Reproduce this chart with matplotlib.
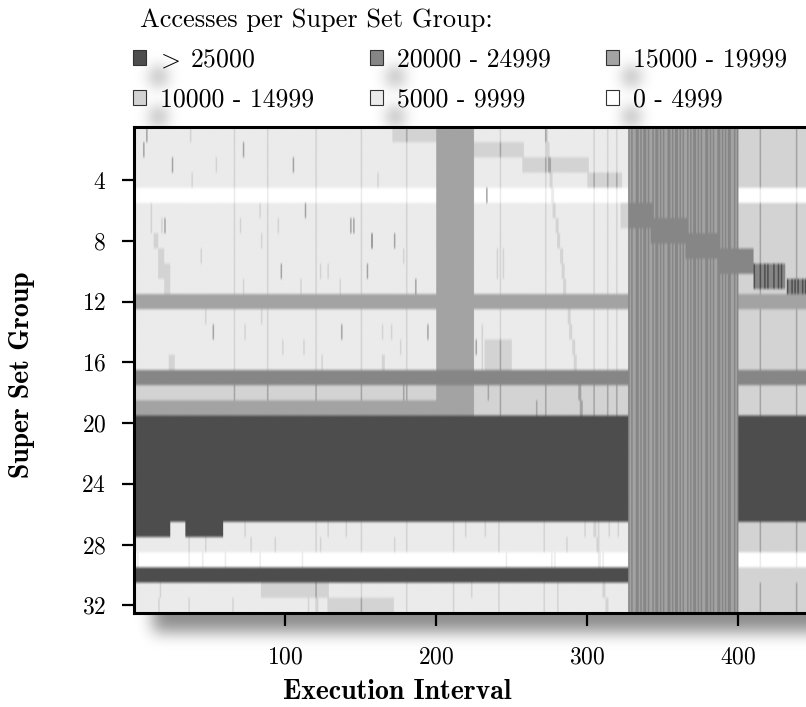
import numpy as np
import matplotlib.pyplot as plt
from matplotlib.colors import ListedColormap
from matplotlib.patches import Patch, Rectangle
from matplotlib.transforms import IdentityTransform

plt.rcParams['font.family'] = 'cmr10'
plt.rcParams['mathtext.fontset'] = 'cm'
plt.rcParams['axes.formatter.use_mathtext'] = True

# access classes, lightest to darkest
level_colors = ['#ffffff', '#ebebeb', '#d3d3d3', '#a3a3a3', '#868686', '#4d4d4d']
level_labels = ['0 - 4999', '5000 - 9999', '10000 - 14999',
                '15000 - 19999', '20000 - 24999', r'$\!>\!$ 25000']

n_int = 450
n_grp = 32
sub = 3  # raster rows per super set group

# class of each super set group (1..32) in the three phases
base_early = [1, 1, 1, 1, 0, 1, 1, 1, 1, 1, 1, 3, 1, 1, 1, 1,
              4, 2, 3, 5, 5, 5, 5, 5, 5, 5, 1, 1, 0, 5, 1, 1]
base_mid = [1, 1, 1, 1, 0, 1, 1, 1, 1, 1, 1, 3, 1, 1, 1, 1,
            4, 2, 2, 5, 5, 5, 5, 5, 5, 5, 1, 1, 0, 5, 1, 1]
base_late = [2, 2, 2, 2, 0, 2, 2, 2, 2, 2, 2, 3, 2, 2, 2, 2,
             4, 2, 2, 5, 5, 5, 5, 5, 5, 5, 2, 2, 0, 2, 2, 2]

# intervals 328..400: every group flips between two classes
stripe_start = 328
stripe_pattern = ("4343344343" "4434334344" "3434334434" "3443434334"
                  "3434434343" "3443434334" "4343434433" "434")

# (top edge, bottom edge, first interval, last interval, class)
patches = [
    (26.5, 27.5, 1, 24, 5), (26.5, 27.5, 35, 59, 5),
    (0.5, 1.5, 172, 200, 2), (1.5, 2.5, 226, 258, 2),
    (2.5, 3.5, 258, 301, 2), (3.5, 4.5, 301, 323, 2),
    (5.5, 7.2, 323, 327, 2),
    (30.5, 31.5, 85, 129, 2), (31.5, 32.5, 129, 172, 2),
    (14.5, 16.5, 233, 250, 2), (15.5, 16.5, 24, 27, 2),
    (5.5, 7.5, 12, 12, 2), (7.5, 8.5, 14, 16, 2),
    (8.5, 10.5, 17, 20, 2), (9.5, 11.5, 21, 24, 2),
]

# hot-set migration steps
steps = [(5.5, 7.2, 328, 343), (6.5, 8.2, 343, 366),
         (7.6, 9.2, 366, 388), (8.5, 10.2, 388, 410)]
step_e = (9.6, 11.2, 411, "544454454544454454544")
step_f = (10.5, 11.5, 433, "544545454454544545")

# intervals with a little more traffic in most groups
lines_upper = [67, 89, 121, 151, 181, 243, 273, 305, 314, 320, 415, 439]
lines_lower = [121, 151, 181, 212, 242, 272, 415, 439]
lower_groups = [27, 28, 31, 32]
row_ticks = [(27, 74), (27, 129), (27, 141), (27, 220), (27, 233), (27, 299),
             (27, 308), (27, 315), (27, 321),
             (28, 37), (28, 48), (28, 78), (28, 94), (28, 124), (28, 173), (28, 287),
             (29, 3), (29, 37), (29, 46), (29, 61), (29, 84), (29, 112), (29, 247),
             (29, 277), (29, 279), (29, 311), (29, 415), (29, 439),
             (31, 18), (31, 224), (31, 281),
             (32, 17), (32, 37), (32, 66), (32, 116), (32, 122), (32, 281)]

# drifting access trace (group, first interval)
diag = [(1, 273), (2, 274), (3, 275), (4, 276), (5, 277), (6, 278), (7, 280),
        (8, 281), (9, 283), (10, 284), (11, 285), (13, 288), (14, 289), (15, 291),
        (16, 292), (18, 295), (19, 296), (27, 305), (28, 307), (29, 308),
        (31, 311), (32, 313)]

# single busy cells (group, interval, class)
spots = [(1, 9, 3), (2, 7, 3), (3, 26, 3), (1, 38, 2), (3, 55, 2), (4, 39, 2),
         (2, 73, 3), (3, 106, 3), (6, 114, 3), (6, 84, 2), (7, 21, 3), (7, 19, 2),
         (7, 71, 2), (7, 96, 2), (7, 144, 3), (7, 146, 3), (8, 85, 2), (8, 158, 4),
         (8, 173, 3), (9, 45, 2), (9, 179, 2), (10, 98, 3), (10, 124, 2),
         (10, 129, 2), (10, 155, 3), (11, 73, 2), (11, 111, 2), (11, 137, 2),
         (11, 187, 3), (13, 48, 2), (13, 85, 2), (14, 53, 3), (14, 74, 2),
         (14, 138, 3), (14, 165, 2), (14, 171, 2), (14, 195, 3), (15, 99, 2),
         (15, 113, 2), (15, 177, 2), (16, 125, 2), (16, 165, 2), (16, 166, 2),
         (5, 234, 3), (9, 241, 2), (10, 241, 2), (9, 245, 2), (10, 245, 2),
         (15, 227, 3), (14, 231, 2), (15, 231, 2), (16, 231, 2), (18, 235, 3),
         (19, 267, 3), (18, 179, 3), (4, 162, 2)]


def rows(g_top, g_bot):
    return slice(int(round((g_top - 0.5) * sub)), int(round((g_bot - 0.5) * sub)))


def cols(i0, i1):
    return slice(i0 - 1, i1)


def bump(r, c):
    cell = grid[r, c]
    grid[r, c] = np.where(cell <= 2, cell + 1, cell)


grid = np.zeros((n_grp * sub, n_int), dtype=int)
for g in range(n_grp):
    r = rows(g + 0.5, g + 1.5)
    grid[r, cols(1, 200)] = base_early[g]
    grid[r, cols(201, 225)] = max(base_early[g], 3) if g < 19 else base_early[g]
    grid[r, cols(226, 327)] = base_mid[g]
    grid[r, cols(401, n_int)] = base_late[g]
for k, ch in enumerate(stripe_pattern):
    grid[:, stripe_start - 1 + k] = int(ch)

for top, bot, i0, i1, lev in patches:
    grid[rows(top, bot), cols(i0, i1)] = lev

for i in lines_upper:
    bump(rows(0.5, 19.5), cols(i, i))
for g in lower_groups:
    for i in lines_lower:
        bump(rows(g - 0.5, g + 0.5), cols(i, i))
for g, i in row_ticks:
    bump(rows(g - 0.5, g + 0.5), cols(i, i))
for g, i in diag:
    bump(rows(g - 0.5, g + 0.5), cols(i, i + 1))
for g, i, lev in spots:
    grid[rows(g - 0.5, g + 0.5), cols(i, i)] = lev

for top, bot, i0, i1 in steps:
    grid[rows(top, bot), cols(i0, i1)] = 4
for top, bot, i0, pat in (step_e, step_f):
    for k, ch in enumerate(pat):
        grid[rows(top, bot), i0 - 1 + k] = int(ch)

# ---- figure ----
W, H = 806, 707
fig = plt.figure(figsize=(W / 100, H / 100), dpi=100)
ax = fig.add_axes([134 / W, 94 / H, n_int * 1.51 / W, 486 / H])

ax.imshow(grid, cmap=ListedColormap(level_colors), vmin=-0.5, vmax=5.5,
          extent=(0, n_int, n_grp + 0.5, 0.5), aspect='auto',
          interpolation='antialiased')
ax.set_xlim(0, n_int)
ax.set_ylim(n_grp + 0.5, 0.5)
ax.set_xticks([100, 200, 300, 400])
ax.set_yticks(range(4, 33, 4))
ax.tick_params(direction='out', length=9, width=1.6, labelsize=17, color='black')
ax.tick_params(axis='x', pad=15)
ax.tick_params(axis='y', pad=11)
for s in ax.spines.values():
    s.set_linewidth(2.2)

ax.set_xlabel('Execution Interval', fontfamily='cmb10', fontsize=20)
ax.xaxis.set_label_coords(0.387, -0.135)
ax.set_ylabel('Super Set Group', fontfamily='cmb10', fontsize=20)
ax.yaxis.set_label_coords(-0.145, 0.49)

handles = [Patch(facecolor=c, edgecolor='#333333', linewidth=0.8) for c in level_colors]
order = [5, 2, 4, 1, 3, 0]
leg = fig.legend([handles[k] for k in order], [level_labels[k] for k in order],
                 loc='upper left', bbox_to_anchor=(133 / W, 1 - 48 / H), ncol=3,
                 frameon=False, fontsize=18.5, handlelength=0.5, handleheight=0.5,
                 handletextpad=0.55, columnspacing=2.17, labelspacing=0.62,
                 borderpad=0, borderaxespad=0)
fig.text(140 / W, 1 - 20 / H, 'Accesses per Super Set Group:', fontsize=19,
         va='center', ha='left')

# soft drop shadow behind the panel and the legend keys
SHADOW_SIGMA = 8
SHADOW_ALPHA = 0.45
DX, DY = 19, 19


def blur(a, sigma):
    r = int(3 * sigma)
    k = np.exp(-0.5 * (np.arange(-r, r + 1) / sigma) ** 2)
    k /= k.sum()
    h, w = a.shape
    p = np.pad(a, r)
    p = sum(k[j] * p[:, j:j + w] for j in range(2 * r + 1))
    return sum(k[j] * p[j:j + h, :] for j in range(2 * r + 1))


def make_shadow(edge_right=False):
    def shadow(im, dpi):
        pad = int(3 * SHADOW_SIGMA)
        a = np.pad(im[:, :, 3], ((pad, pad), (pad, 0)))
        a = np.pad(a, ((0, 0), (0, pad)), mode='edge' if edge_right else 'constant')
        out = np.zeros(a.shape + (4,))
        out[:, :, 3] = blur(a, SHADOW_SIGMA) * SHADOW_ALPHA
        return out, -pad, -pad
    return shadow


panel = Rectangle(((134 + DX) / W, (94 - DY) / H), 700 / W, 486 / H,
                  transform=fig.transFigure, facecolor='k', edgecolor='none', zorder=-1)
panel.set_agg_filter(make_shadow(edge_right=True))
fig.add_artist(panel)

fig.canvas.draw()
renderer = fig.canvas.get_renderer()
for h in leg.legend_handles:
    bb = h.get_window_extent(renderer)
    key = Rectangle((bb.x0 + DX, bb.y0 - DY), bb.width, bb.height,
                    transform=IdentityTransform(), facecolor='k', edgecolor='none',
                    zorder=-1)
    key.set_agg_filter(make_shadow())
    fig.add_artist(key)

fig.savefig('out.png', dpi=100)
